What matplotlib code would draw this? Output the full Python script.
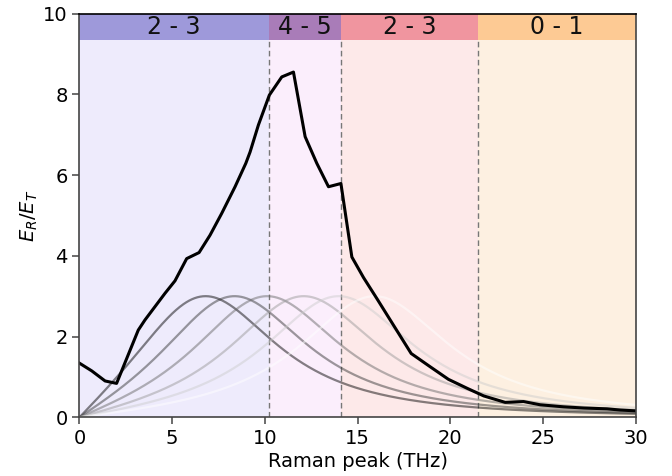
import numpy as np
import matplotlib
matplotlib.use("Agg")
import matplotlib.pyplot as plt

# Measured ratio E_R/E_T versus Raman peak position
raman_thz = [0.0, 0.66, 1.38, 2.0, 3.17, 3.53, 4.07, 4.61, 5.15, 5.78, 6.45,
             7.04, 7.67, 8.39, 8.97, 9.2, 9.65, 10.24, 10.91, 11.54, 12.17,
             12.8, 13.43, 14.1, 14.69, 15.32, 16.04, 16.76, 17.89, 18.92,
             19.9, 20.9, 21.8, 22.96, 23.95, 24.85, 26.1, 27.2, 28.45, 29.17,
             30.0]
ratio = [1.34, 1.15, 0.90, 0.84, 2.16, 2.41, 2.74, 3.07, 3.38, 3.93, 4.08,
         4.51, 5.05, 5.71, 6.29, 6.57, 7.24, 7.98, 8.43, 8.55, 6.95,
         6.29, 5.71, 5.79, 3.97, 3.46, 2.94, 2.41, 1.58, 1.25,
         0.94, 0.72, 0.53, 0.37, 0.39, 0.31, 0.26, 0.23, 0.21, 0.18,
         0.16]

# Reference line shapes (antisymmetrised Lorentzians)
line_centers = [6.6, 8.25, 10.05, 12.05, 13.95, 15.9]
line_height = 3.0
line_halfwidth = 5.0

# Frequency bands and their labels
band_edges = [0.0, 10.2, 14.1, 21.5, 30.0]
band_labels = ["2 - 3", "4 - 5", "2 - 3", "0 - 1"]
band_colors = ["#9e99da", "#a97cb8", "#f0959f", "#fdca94"]
band_bg = ["#eeebfc", "#fbeefc", "#fde9e9", "#fdf0e1"]


def lineshape(x, x0, g):
    return 1.0 / (1.0 + ((x - x0) / g) ** 2) - 1.0 / (1.0 + ((x + x0) / g) ** 2)


fig = plt.figure(figsize=(6.72, 4.76), dpi=100)
ax = fig.add_axes([0.1183, 0.1233, 0.8277, 0.8483])

band_top = 10.0
band_bottom = 9.35
for i, lab in enumerate(band_labels):
    x0, x1 = band_edges[i], band_edges[i + 1]
    ax.axvspan(x0, x1, ymin=0, ymax=band_bottom / band_top,
               color=band_bg[i], lw=0, zorder=0)
    ax.axvspan(x0, x1, ymin=band_bottom / band_top, ymax=1,
               color=band_colors[i], lw=0, zorder=1)
    ax.text((x0 + x1) / 2, (band_bottom + band_top) / 2, lab,
            ha="center", va="center", fontsize=17, color="#111111", zorder=5)

ax.vlines(band_edges[1:-1], 0, band_bottom, colors="#777777",
          linestyles=(0, (4, 2.5)), linewidth=1.0, zorder=2)

xs = np.linspace(0, 30, 600)
shades = np.linspace(0.0, 1.0, len(line_centers))
for c, s in zip(line_centers, shades):
    ys = lineshape(xs, c, line_halfwidth)
    peak = lineshape(np.linspace(0, 30, 3001), c, line_halfwidth).max()
    ax.plot(xs, line_height * ys / peak, color=(s, s, s), alpha=0.48,
            lw=1.6, zorder=3)

ax.plot(raman_thz, ratio, color="black", lw=2.2, zorder=4)

ax.set_xlim(0, 30)
ax.set_ylim(0, 10)
ax.set_xticks([0, 5, 10, 15, 20, 25, 30])
ax.set_yticks([0, 2, 4, 6, 8, 10])
ax.tick_params(labelsize=14, color="#444444", width=1.1, length=5)
for sp in ax.spines.values():
    sp.set_color("#444444")
    sp.set_linewidth(1.2)
    sp.set_zorder(6)
ax.spines["top"].set_color("black")

ax.set_xlabel("Raman peak (THz)", fontsize=14, labelpad=3)
ax.set_ylabel(r"$E_R/E_T$", fontsize=14, labelpad=2)

fig.savefig("out.png", dpi=100)
